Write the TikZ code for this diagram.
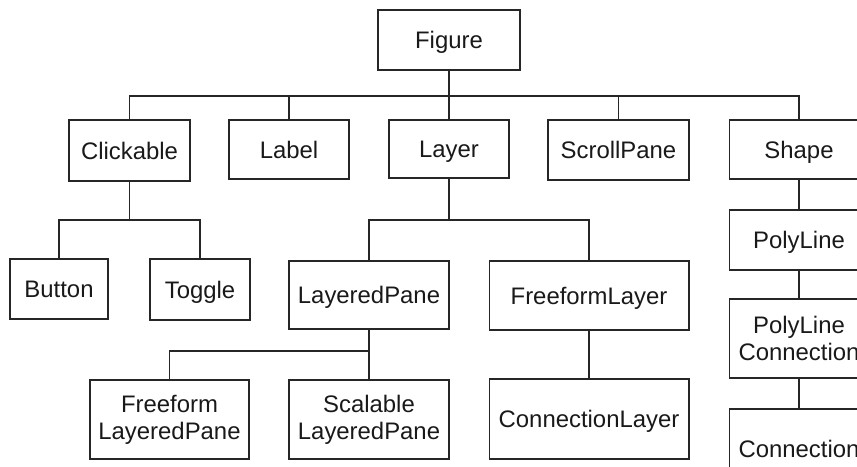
\documentclass[tikz,border=0pt]{standalone}
\usepackage{fontspec}
\setmainfont{Liberation Sans}
\begin{document}
\begin{tikzpicture}[x=0.02cm, y=-0.02cm,
		box/.style={draw=black!85, line width=0.6pt, text=black!90, align=center,
			inner sep=2pt, minimum height=1.2cm, font=\fontsize{13.6}{15.5}\selectfont},
		single/.style={box, text height=9.8pt, text depth=0pt},
		link/.style={draw=black!85, line width=0.6pt}]
			% Frame of the picture, boxes on the right and bottom are cut off
			\useasboundingbox (0,0) rectangle (857,466);
			\clip (0,0) rectangle (857,466);
			
			% Root class
			\node[single, minimum width=2.84cm] (figure) at (449,40) {Figure};
			
			% First level of subclasses
			\node[single, minimum width=2.42cm, minimum height=1.22cm] (clickable) at (129.5,150.5) {Clickable};
			\node[single, minimum width=2.4cm, minimum height=1.18cm] (label) at (289,149.5) {Label};
			\node[single, minimum width=2.4cm, minimum height=1.16cm] (layer) at (449,149) {Layer};
			\node[single, minimum width=2.82cm] (scrollpane) at (618.5,150) {ScrollPane};
			\node[single, minimum width=2.8cm, minimum height=1.18cm] (shape) at (799,149.5) {Shape};
			
			% Subclasses of Clickable
			\node[single, minimum width=1.96cm] (button) at (59,289) {Button};
			\node[single, minimum width=2cm, minimum height=1.22cm] (toggle) at (200,289.5) {Toggle};
			
			% Subclasses of Layer
			\node[single, minimum width=3.2cm, minimum height=1.36cm] (layeredpane) at (369,295) {LayeredPane};
			\node[single, minimum width=4cm, minimum height=1.38cm] (freeformlayer) at (589,295.5) {FreeformLayer};
			\node[box, minimum width=3.18cm, minimum height=1.58cm] (freeformlp) at (169.5,419.5) {Freeform\\LayeredPane};
			\node[box, minimum width=3.2cm, minimum height=1.58cm] (scalablelp) at (369,419.5) {Scalable\\LayeredPane};
			\node[single, minimum width=4cm, minimum height=1.6cm] (connlayer) at (589,419) {ConnectionLayer};
			
			% Chain under Shape
			\node[single, minimum width=2.8cm] (polyline) at (799,240) {PolyLine};
			\node[box, minimum width=2.8cm, minimum height=1.58cm] (polyconn) at (799,338.5) {PolyLine\\Connection};
			\node[single, minimum width=2.8cm, minimum height=1.6cm] (connection) at (799,449) {Connection};
			
			% Heights of the horizontal lines
			\coordinate (bus1) at (0,96);
			\coordinate (bus2) at (0,220);
			\coordinate (bus3) at (0,351);
			
			% Connectors from Figure
			\foreach \c in {clickable,label,layer,scrollpane,shape}
			\draw[link] (figure.south) -- (figure.south |- bus1) -| (\c.north);
			
			% Connectors from Clickable and Layer
			\foreach \c in {button,toggle}
			\draw[link] (clickable.south) -- (clickable.south |- bus2) -| (\c.north);
			\foreach \c in {layeredpane,freeformlayer}
			\draw[link] (layer.south) -- (layer.south |- bus2) -| (\c.north);
			
			% Connectors from LayeredPane
			\foreach \c in {freeformlp,scalablelp}
			\draw[link] (layeredpane.south) -- (layeredpane.south |- bus3) -| (\c.north);
			
			% Straight connectors
			\draw[link] (freeformlayer) -- (connlayer);
			\draw[link] (shape) -- (polyline);
			\draw[link] (polyline) -- (polyconn);
			\draw[link] (polyconn) -- (connection);
			
		\end{tikzpicture}
\end{document}
